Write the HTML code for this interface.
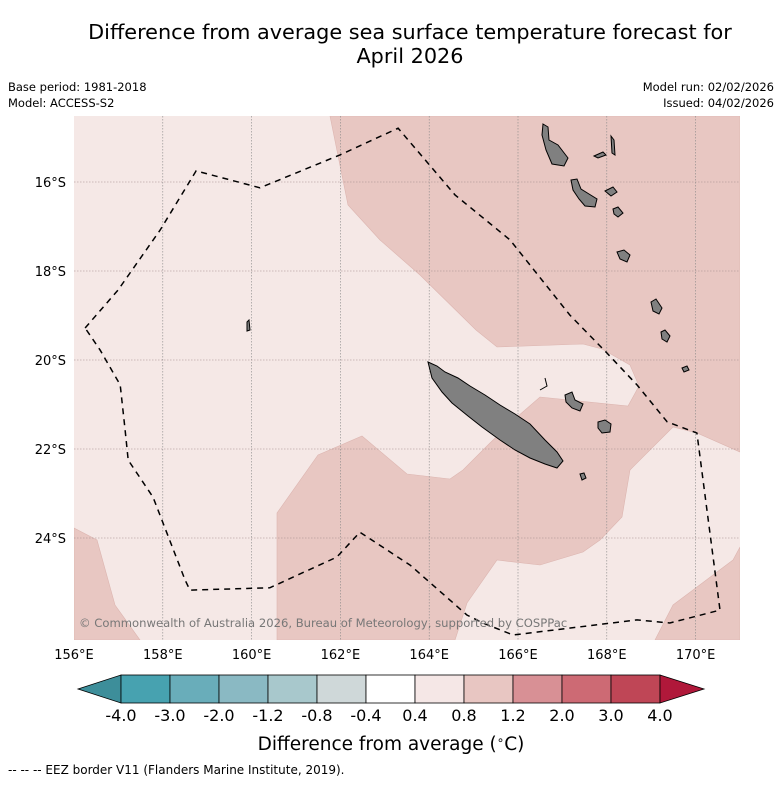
<!DOCTYPE html>
<html><head><meta charset="utf-8"><style>
body{margin:0;background:#fff;width:781px;height:781px;overflow:hidden;font-family:"Liberation Sans","DejaVu Sans",sans-serif;}
svg text{font-family:"DejaVu Sans","Liberation Sans",sans-serif;}
</style></head><body>
<svg width="781" height="781" viewBox="0 0 781 781">
<text x="410" y="39" font-size="20.8" text-anchor="middle">Difference from average sea surface temperature forecast for</text>
<text x="410" y="63" font-size="20.8" text-anchor="middle">April 2026</text>
<text x="8" y="91" font-size="11.5">Base period: 1981-2018</text>
<text x="8" y="107" font-size="11.5">Model: ACCESS-S2</text>
<text x="774" y="91" font-size="11.5" text-anchor="end">Model run: 02/02/2026</text>
<text x="774" y="107" font-size="11.5" text-anchor="end">Issued: 04/02/2026</text>
<defs><clipPath id="mc"><rect x="74" y="116" width="666" height="524"/></clipPath></defs>
<g clip-path="url(#mc)">
<rect x="74" y="116" width="666" height="524" fill="#f5e8e6"/>
<path fill="#e8c7c2" stroke="#dcb5b0" stroke-width="0.6" d="M330,116 L740,116 L740,452 L697,433 L673,427 L630,470 L622,517 L600,540 L583,552 L540,565 L497,560 L467,603 L455,640 L277,640 L277,513 L318,455 L362,436 L407,474 L450,479 L463,470 L490,443 L517,417 L540,397 L628,406 L639,386 L630,365 L602,349 L583,344 L497,347 L476,330 L420,275 L380,240 L348,205 Z"/>
<path fill="#e8c7c2" stroke="#dcb5b0" stroke-width="0.6" d="M655,640 L673,605 L697,587 L733,560 L740,547 L740,640 Z"/>
<path fill="#e8c7c2" stroke="#dcb5b0" stroke-width="0.6" d="M74,528 L97,540 L115,605 L140,640 L74,640 Z"/>
<g id="grid"></g>
<g fill="#808080" stroke="#000" stroke-width="1">
<path d="M428,362 L437,366 L445,372 L458,378 L470,386 L485,395 L500,405 L515,414 L530,424 L545,440 L557,452 L563,461 L557,468 L545,464 L530,458 L515,450 L500,440 L482,427 L468,416 L452,403 L442,392 L432,378 Z"/>
<path d="M565,395 L572,392 L575,400 L583,404 L580,411 L572,408 L566,402 Z"/>
<path d="M598,422 L605,420 L611,424 L610,432 L602,433 L598,428 Z"/>
<path d="M580,474 L584,473 L586,478 L582,480 Z"/>
<path fill="none" d="M545,378 L547,386 L540,390"/>
<path d="M543,124 L548,127 L549,140 L558,145 L568,158 L564,166 L552,164 L546,150 L542,135 Z"/>
<path d="M611,136 L614,140 L615,155 L612,153 Z"/>
<path d="M594,156 L603,152 L606,155 L598,158 Z"/>
<path d="M571,180 L577,179 L581,189 L589,194 L597,199 L595,207 L585,206 L579,199 L573,190 Z"/>
<path d="M605,191 L613,187 L617,192 L611,196 Z"/>
<path d="M613,209 L618,207 L623,213 L618,217 L614,214 Z"/>
<path d="M617,252 L624,250 L630,255 L627,262 L620,259 Z"/>
<path d="M651,302 L656,299 L662,308 L659,314 L653,311 Z"/>
<path d="M661,332 L665,330 L670,336 L667,342 L662,339 Z"/>
<path d="M682,368 L687,366 L689,370 L684,372 Z"/>
<path d="M247,322 L249,320 L250,330 L247,331 Z"/>
</g>
<path id="eez" fill="none" stroke="#000" stroke-width="1.5" stroke-dasharray="6,5"/>
<text x="79" y="627" font-size="11.6" fill="#777">© Commonwealth of Australia 2026, Bureau of Meteorology, supported by COSPPac</text>
</g>
<g id="axes"></g>
<g id="cbar"></g>
<text x="391" y="750" font-size="18.5" text-anchor="middle">Difference from average (<tspan font-size="12" dy="-6">∘</tspan><tspan dy="6">C)</tspan></text>
<text x="8" y="774" font-size="12">--  --  -- EEZ border V11 (Flanders Marine Institute, 2019).</text>
</svg>
<script>
const lonTicks=[156,158,160,162,164,166,168,170];
const latTicks=[16,18,20,22,24];
const eezLon=[156.25,156.99,157.94,158.75,160.19,161.99,163.30,164.58,165.82,167.17,168.00,168.68,169.36,170.03,170.55,169.42,168.68,165.89,165.21,164.85,163.57,162.44,161.92,160.41,158.61,158.50,157.78,157.22,157.15,157.04,156.59,156.25];
const eezLat=[19.28,18.43,17.08,15.75,16.13,15.39,14.79,16.29,17.30,18.99,19.84,20.56,21.39,21.64,25.62,25.91,25.84,26.18,25.91,25.73,24.61,23.87,24.43,25.12,25.17,24.94,23.08,22.25,21.57,20.56,19.78,19.28];
const cbLevels=["-4.0","-3.0","-2.0","-1.2","-0.8","-0.4","0.4","0.8","1.2","2.0","3.0","4.0"];
const cbColors=["#47a2b0","#69adba","#8ab9c3","#a8c8cc","#cfd8d9","#ffffff","#f5e7e6","#e8c6c2","#d89095","#cd6a74","#bf4656"];
const NS="http://www.w3.org/2000/svg";
const X=lon=>74+(lon-156)*44.4;
const Y=lat=>182+(lat-16)*44.5;
function mk(tag,attrs,parent){const e=document.createElementNS(NS,tag);for(const k in attrs)e.setAttribute(k,attrs[k]);parent.appendChild(e);return e;}
const grid=document.getElementById('grid'),axes=document.getElementById('axes');
lonTicks.forEach(l=>{
 if(l>156){const g=mk('line',{x1:X(l),x2:X(l),y1:116,y2:640,stroke:'#888','stroke-width':0.6,'stroke-dasharray':'1.5,1.5'},grid);
 
 }
 const t=mk('text',{x:X(l),y:659,'font-size':13,'text-anchor':'middle'},axes);t.textContent=l+'°E';
 
 
});
latTicks.forEach(l=>{
 const g=mk('line',{x1:74,x2:740,y1:Y(l),y2:Y(l),stroke:'#a08a8a','stroke-width':0.6,'stroke-dasharray':'1.5,1.5'},grid);
 
 
 const t=mk('text',{x:66,y:Y(l)+5,'font-size':13,'text-anchor':'end'},axes);t.textContent=l+'°S';
 
 
});
document.getElementById('eez').setAttribute('d',eezLon.map((l,i)=>(i?'L':'M')+X(l).toFixed(1)+','+Y(eezLat[i]).toFixed(1)).join(' '));
const cb=document.getElementById('cbar');
const cx0=121,cw=49,cy=675,ch=28;
const lt=mk('polygon',{points:`78,${cy+ch/2} ${cx0},${cy} ${cx0},${cy+ch}`,fill:'#3d8e9a',stroke:'#000','stroke-width':0.8},cb);


cbColors.forEach((c,i)=>{
 const r=mk('rect',{x:cx0+i*cw,y:cy,width:cw,height:ch,fill:c,stroke:'#000','stroke-width':0.8},cb);
 
 
});
const xe=cx0+cbColors.length*cw;
const rt=mk('polygon',{points:`${xe},${cy} ${xe+44},${cy+ch/2} ${xe},${cy+ch}`,fill:'#b0183a',stroke:'#000','stroke-width':0.8},cb);


cbLevels.forEach((v,i)=>{
 const t=mk('text',{x:cx0+i*cw,y:721,'font-size':16,'text-anchor':'middle'},cb);t.textContent=v;
 
 
});
</script>
</body></html>
